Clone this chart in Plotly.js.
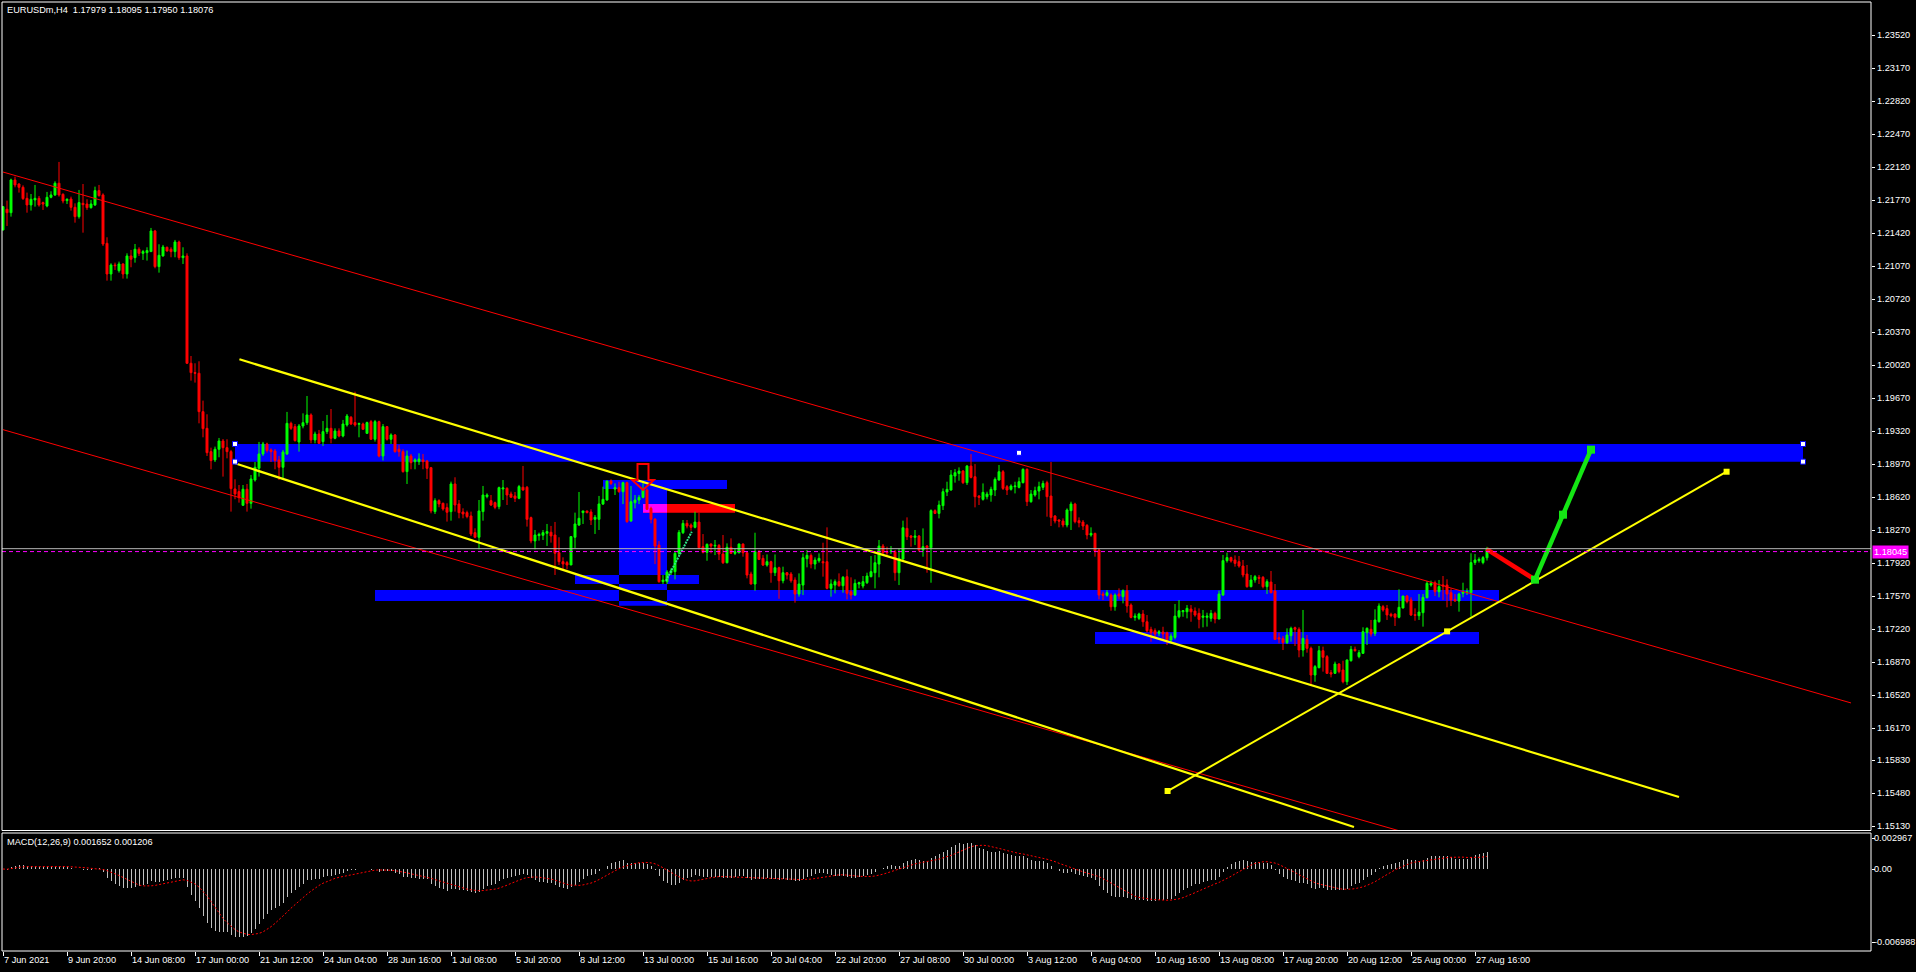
<!DOCTYPE html>
<html><head><meta charset="utf-8">
<script src="https://cdn.plot.ly/plotly-3.0.1.min.js"></script>
<style>html,body{margin:0;padding:0;background:#000;overflow:hidden}#chart{width:1916px;height:972px}</style>
</head><body><div id="chart"></div>
<script>
// ---------- data ----------
const symbolTitle = "EURUSDm,H4  1.17979 1.18095 1.17950 1.18076";
const macdTitle = "MACD(12,26,9) 0.001652 0.001206";
const timeLabels = ["7 Jun 2021","9 Jun 20:00","14 Jun 08:00","17 Jun 00:00","21 Jun 12:00","24 Jun 04:00","28 Jun 16:00","1 Jul 08:00","5 Jul 20:00","8 Jul 12:00","13 Jul 00:00","15 Jul 16:00","20 Jul 04:00","22 Jul 20:00","27 Jul 08:00","30 Jul 00:00","3 Aug 12:00","6 Aug 04:00","10 Aug 16:00","13 Aug 08:00","17 Aug 20:00","20 Aug 12:00","25 Aug 00:00","27 Aug 16:00"];
const barsPerLabel = 16;

const openP = [
1.21456,1.21675,1.21639,1.21986,1.21943,1.21908,1.21791,1.21721,1.21774,1.21791,
1.21746,1.21710,1.21802,1.21827,1.21951,1.21834,1.21767,1.21784,1.21696,1.21597,
1.21738,1.21731,1.21692,1.21721,1.21873,1.21827,1.21314,1.20989,1.21084,1.21024,
1.21095,1.20989,1.21180,1.21162,1.21251,1.21208,1.21215,1.21226,1.21445,1.21067,
1.21180,1.21272,1.21251,1.21226,1.21328,1.21162,1.21180,1.20042,1.19943,1.19936,
1.19529,1.19352,1.19105,1.19017,1.19130,1.19218,1.19147,1.19105,1.18709,1.18681,
1.18536,1.18706,1.18557,1.18804,1.18928,1.19080,1.19186,1.19123,1.19112,1.19017,
1.18939,1.19080,1.19405,1.19370,1.19207,1.19377,1.19412,1.19494,1.19229,1.19292,
1.19211,1.19317,1.19352,1.19246,1.19324,1.19271,1.19388,1.19469,1.19413,1.19395,
1.19398,1.19299,1.19423,1.19236,1.19423,1.19059,1.19370,1.19236,1.19282,1.19130,
1.19105,1.18893,1.19059,1.18999,1.18999,1.19017,1.19006,1.18935,1.18469,1.18585,
1.18557,1.18511,1.18469,1.18762,1.18550,1.18465,1.18458,1.18423,1.18246,1.18197,
1.18469,1.18628,1.18585,1.18564,1.18522,1.18709,1.18716,1.18656,1.18635,1.18610,
1.18727,1.18727,1.18405,1.18158,1.18214,1.18218,1.18239,1.18250,1.18221,1.18034,
1.17938,1.17928,1.17903,1.18197,1.18327,1.18458,1.18476,1.18465,1.18387,1.18387,
1.18549,1.18592,1.18793,1.18708,1.18723,1.18680,1.18776,1.18369,1.18563,1.18592,
1.18620,1.18698,1.18503,1.18390,1.18114,1.17726,1.17726,1.17821,1.17832,1.18026,
1.18245,1.18344,1.18327,1.18302,1.18358,1.18097,1.18037,1.18125,1.18104,1.18111,
1.18019,1.17927,1.18090,1.18026,1.18033,1.18125,1.18033,1.17807,1.17701,1.18044,
1.17973,1.17902,1.17938,1.17821,1.17874,1.17736,1.17821,1.17807,1.17743,1.17595,
1.17690,1.17970,1.18005,1.17913,1.17948,1.17938,1.17938,1.17655,1.17690,1.17726,
1.17683,1.17779,1.17620,1.17584,1.17701,1.17680,1.17715,1.17779,1.17821,1.17913,
1.18104,1.18044,1.18044,1.18044,1.17821,1.17966,1.18291,1.18210,1.18196,1.18210,
1.18062,1.18104,1.18086,1.18479,1.18450,1.18532,1.18677,1.18698,1.18846,1.18874,
1.18899,1.18776,1.18952,1.18839,1.18634,1.18599,1.18627,1.18645,1.18698,1.18804,
1.18892,1.18733,1.18705,1.18733,1.18726,1.18776,1.18917,1.18574,1.18645,1.18687,
1.18726,1.18776,1.18634,1.18422,1.18380,1.18369,1.18327,1.18479,1.18549,1.18373,
1.18358,1.18323,1.18221,1.18238,1.18062,1.17595,1.17581,1.17584,1.17460,1.17595,
1.17567,1.17630,1.17478,1.17347,1.17337,1.17383,1.17301,1.17220,1.17206,1.17178,
1.17192,1.17185,1.17107,1.17135,1.17354,1.17407,1.17407,1.17436,1.17414,1.17390,
1.17348,1.17348,1.17337,1.17390,1.17330,1.17585,1.17949,1.17981,1.17956,1.17938,
1.17892,1.17807,1.17673,1.17744,1.17772,1.17772,1.17673,1.17722,1.17627,1.17132,
1.17122,1.17079,1.17153,1.17238,1.17221,1.17001,1.17114,1.17019,1.16736,1.16814,
1.16994,1.16931,1.16761,1.16754,1.16853,1.16789,1.16665,1.16888,1.17008,1.16931,
1.16966,1.17185,1.17221,1.17178,1.17302,1.17461,1.17440,1.17380,1.17383,1.17348,
1.17447,1.17574,1.17532,1.17376,1.17365,1.17397,1.17556,1.17691,1.17715,1.17620,
1.17691,1.17691,1.17609,1.17539,1.17521,1.17602,1.17609,1.17609,1.17928,1.17949,
1.17928,1.17979];
const highP = [
1.21710,1.21767,1.22000,1.22021,1.21951,1.21929,1.21852,1.21837,1.21933,1.21816,
1.21756,1.21859,1.21866,1.21972,1.22177,1.21844,1.21791,1.21809,1.21738,1.21880,
1.21943,1.21781,1.21774,1.21915,1.21933,1.21844,1.21378,1.21102,1.21109,1.21120,
1.21102,1.21208,1.21244,1.21307,1.21272,1.21244,1.21272,1.21477,1.21456,1.21304,
1.21297,1.21279,1.21272,1.21350,1.21343,1.21272,1.21208,1.20119,1.20042,1.20063,
1.19646,1.19501,1.19147,1.19158,1.19250,1.19239,1.19236,1.19123,1.18812,1.18751,
1.18751,1.18762,1.18857,1.18995,1.19208,1.19208,1.19200,1.19140,1.19133,1.19059,
1.19123,1.19526,1.19423,1.19398,1.19398,1.19511,1.19695,1.19511,1.19317,1.19335,
1.19430,1.19494,1.19557,1.19352,1.19352,1.19441,1.19504,1.19483,1.19741,1.19413,
1.19413,1.19423,1.19441,1.19441,1.19434,1.19398,1.19377,1.19299,1.19292,1.19176,
1.19130,1.19116,1.19080,1.19034,1.19087,1.19080,1.19017,1.18939,1.18610,1.18600,
1.18564,1.18557,1.18787,1.18833,1.18592,1.18504,1.18479,1.18469,1.18292,1.18592,
1.18741,1.18663,1.18645,1.18575,1.18734,1.18804,1.18727,1.18681,1.18677,1.18752,
1.18953,1.18741,1.18416,1.18274,1.18246,1.18274,1.18338,1.18317,1.18359,1.18197,
1.17984,1.17946,1.18204,1.18458,1.18677,1.18476,1.18476,1.18494,1.18433,1.18635,
1.18733,1.18797,1.18811,1.18768,1.18786,1.18786,1.18786,1.18740,1.18645,1.18645,
1.18797,1.18715,1.18521,1.18397,1.18157,1.17796,1.17849,1.17867,1.18044,1.18274,
1.18380,1.18380,1.18344,1.18468,1.18457,1.18231,1.18132,1.18132,1.18168,1.18125,
1.18221,1.18132,1.18185,1.18079,1.18132,1.18132,1.18044,1.17832,1.18245,1.18062,
1.18008,1.18015,1.17948,1.18015,1.17885,1.17885,1.17828,1.17828,1.17772,1.17814,
1.18026,1.18062,1.18026,1.17984,1.18026,1.18139,1.18302,1.17750,1.17750,1.17814,
1.17786,1.17856,1.17772,1.17750,1.17726,1.17786,1.17821,1.17998,1.18008,1.18168,
1.18125,1.18097,1.18104,1.18062,1.18079,1.18373,1.18408,1.18221,1.18274,1.18221,
1.18291,1.18114,1.18493,1.18493,1.18585,1.18715,1.18786,1.18910,1.18920,1.18938,
1.18910,1.18963,1.19079,1.18973,1.18645,1.18768,1.18680,1.18733,1.18832,1.18963,
1.18910,1.18751,1.18758,1.18786,1.18832,1.18928,1.18928,1.18698,1.18733,1.18786,
1.18797,1.18797,1.18995,1.18433,1.18387,1.18397,1.18503,1.18574,1.18563,1.18408,
1.18380,1.18337,1.18302,1.18245,1.18079,1.17620,1.17637,1.17602,1.17602,1.17655,
1.17644,1.17690,1.17496,1.17390,1.17397,1.17425,1.17372,1.17248,1.17231,1.17213,
1.17248,1.17195,1.17178,1.17489,1.17531,1.17425,1.17478,1.17478,1.17453,1.17443,
1.17426,1.17397,1.17426,1.17408,1.17631,1.18009,1.18034,1.17991,1.18005,1.17998,
1.17956,1.17903,1.17797,1.17797,1.17797,1.17786,1.17751,1.17839,1.17701,1.17185,
1.17150,1.17231,1.17249,1.17249,1.17242,1.17426,1.17160,1.17037,1.16842,1.17044,
1.17037,1.16948,1.16789,1.16878,1.16860,1.16888,1.16902,1.17044,1.17037,1.17001,
1.17242,1.17242,1.17320,1.17433,1.17496,1.17479,1.17479,1.17397,1.17390,1.17645,
1.17574,1.17585,1.17560,1.17443,1.17595,1.17595,1.17733,1.17737,1.17737,1.17744,
1.17786,1.17751,1.17655,1.17595,1.17609,1.17715,1.17655,1.18027,1.18019,1.17984,
1.17998,1.18095];
const lowP = [
1.21449,1.21498,1.21597,1.21908,1.21852,1.21774,1.21639,1.21661,1.21703,1.21703,
1.21668,1.21696,1.21791,1.21816,1.21809,1.21738,1.21731,1.21661,1.21533,1.21576,
1.21427,1.21668,1.21682,1.21710,1.21809,1.21286,1.20918,1.20918,1.21031,1.21003,
1.20940,1.20940,1.21060,1.21109,1.21180,1.21138,1.21131,1.21222,1.21049,1.21003,
1.21173,1.21226,1.21166,1.21166,1.21138,1.21095,1.20035,1.19858,1.19837,1.19405,
1.19257,1.19059,1.18918,1.18995,1.19045,1.18840,1.19034,1.18469,1.18600,1.18564,
1.18529,1.18469,1.18500,1.18787,1.18840,1.19059,1.19094,1.18995,1.18918,1.18804,
1.18822,1.19070,1.19335,1.19211,1.19105,1.19352,1.19388,1.19193,1.19193,1.19190,
1.19165,1.19292,1.19193,1.19236,1.19257,1.19257,1.19370,1.19388,1.19370,1.19257,
1.19335,1.19292,1.19229,1.19211,1.19045,1.19010,1.19222,1.19186,1.19094,1.19052,
1.18882,1.18762,1.18918,1.18918,1.18964,1.18918,1.18815,1.18451,1.18444,1.18515,
1.18479,1.18363,1.18373,1.18469,1.18398,1.18398,1.18398,1.18211,1.18186,1.18069,
1.18373,1.18610,1.18529,1.18494,1.18494,1.18592,1.18539,1.18621,1.18571,1.18600,
1.18691,1.18310,1.18133,1.18069,1.18161,1.18168,1.18105,1.18140,1.17797,1.17903,
1.17857,1.17857,1.17903,1.18080,1.18317,1.18338,1.18451,1.18327,1.18232,1.18274,
1.18539,1.18585,1.18751,1.18645,1.18670,1.18549,1.18351,1.18362,1.18503,1.18549,
1.18610,1.18486,1.18344,1.17913,1.17715,1.17701,1.17701,1.17796,1.17750,1.18008,
1.18231,1.18291,1.18267,1.18291,1.18069,1.18026,1.17948,1.18026,1.18008,1.17955,
1.17913,1.17920,1.18019,1.18008,1.18026,1.17991,1.17761,1.17697,1.17630,1.17955,
1.17892,1.17885,1.17715,1.17786,1.17545,1.17708,1.17750,1.17715,1.17503,1.17567,
1.17584,1.17878,1.17867,1.17856,1.17927,1.17779,1.17644,1.17567,1.17602,1.17673,
1.17609,1.17538,1.17538,1.17574,1.17655,1.17655,1.17701,1.17772,1.17655,1.17772,
1.18008,1.18008,1.18019,1.17736,1.17690,1.17955,1.18168,1.18097,1.18114,1.18044,
1.17991,1.17821,1.17715,1.18443,1.18397,1.18486,1.18634,1.18691,1.18776,1.18797,
1.18761,1.18751,1.18821,1.18514,1.18539,1.18585,1.18599,1.18574,1.18634,1.18797,
1.18698,1.18645,1.18691,1.18662,1.18715,1.18768,1.18528,1.18563,1.18627,1.18599,
1.18698,1.18415,1.18316,1.18344,1.18302,1.18302,1.18302,1.18274,1.18344,1.18302,
1.18274,1.18175,1.18203,1.17991,1.17538,1.17531,1.17567,1.17418,1.17418,1.17538,
1.17496,1.17397,1.17337,1.17312,1.17319,1.17248,1.17185,1.17089,1.17135,1.17149,
1.17107,1.17054,1.17072,1.17114,1.17337,1.17354,1.17337,1.17301,1.17354,1.17231,
1.17242,1.17249,1.17302,1.17284,1.17327,1.17574,1.17928,1.17928,1.17885,1.17874,
1.17772,1.17662,1.17666,1.17715,1.17701,1.17655,1.17595,1.17602,1.17107,1.17072,
1.17001,1.17065,1.17090,1.17044,1.16924,1.16931,1.16973,1.16641,1.16665,1.16807,
1.16772,1.16747,1.16711,1.16747,1.16754,1.16648,1.16630,1.16878,1.16984,1.16913,
1.16959,1.17054,1.17143,1.17150,1.17291,1.17408,1.17320,1.17348,1.17256,1.17337,
1.17443,1.17496,1.17362,1.17312,1.17320,1.17249,1.17549,1.17673,1.17574,1.17560,
1.17532,1.17454,1.17468,1.17514,1.17408,1.17560,1.17585,1.17355,1.17903,1.17928,
1.17910,1.17950];
const closeP = [
1.21703,1.21639,1.21986,1.21933,1.21908,1.21788,1.21721,1.21781,1.21791,1.21721,
1.21731,1.21802,1.21827,1.21951,1.21827,1.21763,1.21781,1.21696,1.21597,1.21746,
1.21724,1.21692,1.21731,1.21873,1.21820,1.21307,1.20989,1.21084,1.21077,1.21095,
1.20989,1.21180,1.21145,1.21251,1.21208,1.21226,1.21237,1.21445,1.21067,1.21187,
1.21275,1.21233,1.21226,1.21328,1.21162,1.21180,1.20042,1.19943,1.19936,1.19529,
1.19349,1.19094,1.19010,1.19130,1.19218,1.19147,1.19105,1.18713,1.18656,1.18617,
1.18706,1.18557,1.18815,1.18939,1.19080,1.19186,1.19116,1.19105,1.19010,1.18939,
1.19101,1.19405,1.19352,1.19222,1.19377,1.19412,1.19494,1.19229,1.19292,1.19193,
1.19317,1.19352,1.19246,1.19324,1.19271,1.19398,1.19483,1.19398,1.19388,1.19402,
1.19342,1.19413,1.19236,1.19423,1.19059,1.19370,1.19236,1.19282,1.19105,1.19105,
1.18893,1.19059,1.18988,1.19017,1.19027,1.18999,1.18928,1.18476,1.18585,1.18550,
1.18497,1.18462,1.18762,1.18539,1.18458,1.18444,1.18416,1.18232,1.18197,1.18476,
1.18645,1.18645,1.18539,1.18515,1.18723,1.18720,1.18645,1.18621,1.18610,1.18734,
1.18698,1.18387,1.18158,1.18221,1.18228,1.18246,1.18257,1.18211,1.18027,1.17938,
1.17914,1.17903,1.18204,1.18338,1.18398,1.18476,1.18458,1.18380,1.18409,1.18550,
1.18599,1.18793,1.18768,1.18723,1.18680,1.18776,1.18362,1.18574,1.18592,1.18620,
1.18698,1.18493,1.18387,1.18104,1.17726,1.17743,1.17828,1.17842,1.18026,1.18249,
1.18344,1.18316,1.18302,1.18358,1.18086,1.18037,1.18121,1.18104,1.18111,1.18019,
1.17927,1.18090,1.18026,1.18044,1.18125,1.18033,1.17796,1.17701,1.18044,1.17962,
1.17902,1.17938,1.17821,1.17874,1.17736,1.17821,1.17796,1.17736,1.17595,1.17701,
1.17980,1.18005,1.17913,1.17955,1.17973,1.17927,1.17655,1.17701,1.17726,1.17683,
1.17772,1.17602,1.17584,1.17708,1.17715,1.17726,1.17786,1.17832,1.17927,1.18104,
1.18033,1.18033,1.18051,1.17821,1.17973,1.18298,1.18203,1.18196,1.18210,1.18062,
1.18097,1.18086,1.18479,1.18450,1.18539,1.18680,1.18705,1.18857,1.18882,1.18899,
1.18776,1.18952,1.18832,1.18627,1.18620,1.18673,1.18655,1.18705,1.18811,1.18892,
1.18715,1.18698,1.18740,1.18740,1.18786,1.18917,1.18574,1.18655,1.18691,1.18733,
1.18768,1.18627,1.18408,1.18369,1.18369,1.18327,1.18486,1.18549,1.18362,1.18351,
1.18316,1.18221,1.18238,1.18051,1.17584,1.17581,1.17609,1.17460,1.17584,1.17574,
1.17630,1.17468,1.17347,1.17361,1.17383,1.17301,1.17206,1.17185,1.17171,1.17195,
1.17171,1.17114,1.17149,1.17361,1.17418,1.17418,1.17443,1.17407,1.17372,1.17326,
1.17362,1.17362,1.17390,1.17330,1.17595,1.17949,1.17981,1.17945,1.17920,1.17892,
1.17797,1.17673,1.17744,1.17779,1.17761,1.17673,1.17726,1.17609,1.17114,1.17118,
1.17079,1.17160,1.17231,1.17221,1.17001,1.17125,1.17019,1.16736,1.16825,1.16994,
1.16924,1.16754,1.16747,1.16853,1.16772,1.16665,1.16895,1.17008,1.16994,1.16973,
1.17196,1.17231,1.17171,1.17320,1.17468,1.17426,1.17373,1.17365,1.17348,1.17454,
1.17574,1.17514,1.17373,1.17369,1.17404,1.17560,1.17708,1.17708,1.17620,1.17673,
1.17680,1.17595,1.17532,1.17521,1.17595,1.17620,1.17620,1.17928,1.17956,1.17963,
1.17981,1.18076];

const priceTicks = [1.23520,1.23170,1.22820,1.22470,1.22120,1.21770,1.21420,1.21070,1.20720,1.20370,1.20020,1.19670,1.19320,1.18970,1.18620,1.18270,1.17920,1.17570,1.17220,1.16870,1.16520,1.16170,1.15830,1.15480,1.15130];
const macdTickVals = [0.002967, 0, -0.006988];
const macdTickText = ["0.002967", "0.00", "-0.006988"];
const markerPrice = 1.18045;
const markerText = "1.18045";

// drawn objects: anchor points as (bar index, price)
const redChannelTopIdx = [0, 462],     redChannelTopPrice = [1.22070, 1.16440];
const redChannelBotIdx = [0, 354],     redChannelBotPrice = [1.19338, 1.15024];
const yellowTopIdx = [59.1, 419],      yellowTopPrice = [1.20084, 1.15443];
const yellowBotIdx = [58, 337.75],     yellowBotPrice = [1.18981, 1.15125];
const yellowRiseIdx = [291.15, 430.9], yellowRisePrice = [1.15506, 1.18892];
const greenLegIdx = [383, 397],        greenLegPrice = [1.17747, 1.19126];
const redLegIdx = [370.9, 383],        redLegPrice = [1.18072, 1.17747];
const tealIdx = [165.75, 172.2],       tealPrice = [1.17736, 1.18256];
const rectStartIdx = [58, 93, 273, 150, 154, 143, 160];
const rectEndIdx   = [450, 374, 369, 181, 166, 174, 183];
const rectLowPrice = [1.18999, 1.17521, 1.17065, 1.18709, 1.17471, 1.17702, 1.18458];
const rectHighPrice= [1.19186, 1.17638, 1.17192, 1.18804, 1.18709, 1.17797, 1.18550];
const rectColor    = ["#0000FF","#0000FF","#0000FF","#0000FF","#0000FF","#0000FF","#FF0000"];
const arrowIdx = 160, arrowTip = 1.18698, arrowNeck = 1.18804, arrowTop = 1.18974;

// ---------- layout geometry ----------
const W = 1916, H = 972, ML = 2, MR = 45, MT = 2, MB = 21;
const plotW = W - ML - MR, plotH = H - MT - MB;
const px = v => (v - ML) / plotW;
const py = v => (H - MB - v) / plotH;
const mainDomain = [py(830.5), 1];
const macdDomain = [0, py(833)];

const N = closeP.length;
const idx = Array.from({length: N}, (_, i) => i);

// MACD(12,26,9) from closes
function ema(arr, n) { const k = 2 / (n + 1); const out = []; let prev = arr[0];
  for (let i = 0; i < arr.length; i++) { prev = i === 0 ? arr[0] : arr[i] * k + prev * (1 - k); out.push(prev); } return out; }
const e12 = ema(closeP, 12), e26 = ema(closeP, 26);
const macdMain = e12.map((v, i) => v - e26[i]);
const macdSignal = macdMain.map((v, i) => { const s = Math.max(0, i - 8); let t = 0; for (let j = s; j <= i; j++) t += macdMain[j]; return t / (i - s + 1); });

const traces = [];
traces.push({type:'candlestick', x: idx, open: openP, high: highP, low: lowP, close: closeP,
  xaxis:'x', yaxis:'y', whiskerwidth: 0, hoverinfo:'skip', showlegend:false,
  increasing:{line:{color:'#00FF00', width:1}, fillcolor:'#00FF00'},
  decreasing:{line:{color:'#FF0000', width:1}, fillcolor:'#FF0000'}});
function line(xs, ys, color, width, dash) {
  traces.push({type:'scatter', mode:'lines', x: xs, y: ys, xaxis:'x', yaxis:'y',
    line:{color, width, dash: dash || 'solid'}, hoverinfo:'skip', showlegend:false});
}
line(redChannelTopIdx, redChannelTopPrice, '#FF0000', 1);
line(redChannelBotIdx, redChannelBotPrice, '#FF0000', 1);
line(yellowTopIdx, yellowTopPrice, '#FFFF00', 2.2);
line(yellowBotIdx, yellowBotPrice, '#FFFF00', 2.2);
line(yellowRiseIdx, yellowRisePrice, '#FFFF00', 2);
line(tealIdx, tealPrice, '#2EE68A', 2, '2px,1px');
line(redLegIdx, redLegPrice, '#FF0000', 4.5);
line(greenLegIdx, greenLegPrice, '#14E614', 4.5);
function mid(a) { return (a[0] + a[1]) / 2; }
function squares(xs, ys, color, size, lineColor) {
  traces.push({type:'scatter', mode:'markers', x: xs, y: ys, xaxis:'x', yaxis:'y', cliponaxis:false,
    marker:{symbol:'square', size, color, line:{color: lineColor || color, width: lineColor ? 1 : 0}},
    hoverinfo:'skip', showlegend:false});
}
squares([greenLegIdx[0], mid(greenLegIdx), greenLegIdx[1]], [greenLegPrice[0], mid(greenLegPrice), greenLegPrice[1]], '#14E614', 8);
squares([yellowRiseIdx[0], mid(yellowRiseIdx), yellowRiseIdx[1]], [yellowRisePrice[0], mid(yellowRisePrice), yellowRisePrice[1]], '#FFFF00', 6);
squares([rectStartIdx[0], rectStartIdx[0], rectEndIdx[0], rectEndIdx[0], (rectStartIdx[0] + rectEndIdx[0]) / 2],
        [rectHighPrice[0], rectLowPrice[0], rectHighPrice[0], rectLowPrice[0], (rectHighPrice[0] + rectLowPrice[0]) / 2], '#FFFFFF', 5, '#0000FF');

// MACD
traces.push({type:'bar', x: idx, y: macdMain, xaxis:'x', yaxis:'y2', width: 0.25,
  marker:{color:'#C0C0C0', line:{width:0}}, hoverinfo:'skip', showlegend:false});
traces.push({type:'scatter', mode:'lines', x: idx, y: macdSignal, xaxis:'x', yaxis:'y2',
  line:{color:'#FF0000', width:1, dash:'2px,2px'}, hoverinfo:'skip', showlegend:false});

// ---------- shapes ----------
const shapes = [];
function hex(c) { return [parseInt(c.substr(1,2),16), parseInt(c.substr(3,2),16), parseInt(c.substr(5,2),16)]; }
function toHex(a) { return '#' + a.map(v => v.toString(16).padStart(2,'0')).join(''); }
for (let r = 0; r < rectColor.length; r++) {
  shapes.push({type:'rect', xref:'x', yref:'y', layer:'below', x0: rectStartIdx[r], x1: rectEndIdx[r],
    y0: rectLowPrice[r], y1: rectHighPrice[r], fillcolor: rectColor[r], line:{width:0}});
}
// MT4 draws background rectangles with XOR: overlapping parts mix colours
for (let a = 0; a < rectColor.length; a++) for (let b = a + 1; b < rectColor.length; b++) {
  const x0 = Math.max(rectStartIdx[a], rectStartIdx[b]), x1 = Math.min(rectEndIdx[a], rectEndIdx[b]);
  const y0 = Math.max(rectLowPrice[a], rectLowPrice[b]), y1 = Math.min(rectHighPrice[a], rectHighPrice[b]);
  if (x1 > x0 && y1 > y0) {
    const ca = hex(rectColor[a]), cb = hex(rectColor[b]);
    shapes.push({type:'rect', xref:'x', yref:'y', layer:'below', x0, x1, y0, y1,
      fillcolor: toHex(ca.map((v, k) => v ^ cb[k])), line:{width:0}});
  }
}
// down arrow object
const aw = 1.375, hw = 2.7;
shapes.push({type:'path', xref:'x', yref:'y', layer:'above', line:{color:'#FF0000', width:2},
  path:`M ${arrowIdx-aw} ${arrowTop} L ${arrowIdx+aw} ${arrowTop} L ${arrowIdx+aw} ${arrowNeck} L ${arrowIdx+hw} ${arrowNeck} L ${arrowIdx} ${arrowTip} L ${arrowIdx-hw} ${arrowNeck} L ${arrowIdx-aw} ${arrowNeck} Z`});
// bid line and marker line
shapes.push({type:'line', xref:'paper', yref:'y', x0:0, x1:1, y0: closeP[N-1], y1: closeP[N-1], line:{color:'#B4B4B4', width:1}, layer:'above'});
shapes.push({type:'line', xref:'paper', yref:'y', x0:0, x1:1, y0: markerPrice, y1: markerPrice, line:{color:'#FF00FF', width:1, dash:'4px,3px'}, layer:'above'});
// window frames
shapes.push({type:'rect', xref:'paper', yref:'paper', x0:0, x1:1, y0: mainDomain[0], y1: 1, line:{color:'#FFFFFF', width:1}, layer:'above'});
shapes.push({type:'rect', xref:'paper', yref:'paper', x0:0, x1:1, y0: 0, y1: macdDomain[1], line:{color:'#FFFFFF', width:1}, layer:'above'});

// ---------- annotations ----------
const font = {family:'Liberation Sans, Arial, sans-serif', size:9.2, color:'#FFFFFF'};
const annotations = [];
annotations.push({xref:'paper', yref:'paper', x: px(6), y: py(4), xanchor:'left', yanchor:'top', text: symbolTitle, showarrow:false, font, borderpad:0});
annotations.push({xref:'paper', yref:'paper', x: px(6), y: py(836), xanchor:'left', yanchor:'top', text: macdTitle, showarrow:false, font, borderpad:0});
timeLabels.forEach((t, k) => annotations.push({xref:'x', yref:'paper', x: k * barsPerLabel, y: 0, xanchor:'left', yanchor:'top',
  yshift:-3, text: t, showarrow:false, font, borderpad:0}));
priceTicks.forEach(v => annotations.push({xref:'paper', yref:'y', x: 1, y: v, xanchor:'left', yanchor:'middle',
  xshift:5, text: v.toFixed(5), showarrow:false, font, borderpad:0}));
macdTickVals.forEach((v, k) => annotations.push({xref:'paper', yref:'y2', x: 1, y: v, xanchor:'left', yanchor:'middle',
  xshift:2, text: macdTickText[k], showarrow:false, font, borderpad:0}));
annotations.push({xref:'paper', yref:'y', x: 1, y: markerPrice, xanchor:'left', yanchor:'middle', xshift:1,
  text: markerText, showarrow:false, font:{...font, color:'#FFFFFF'}, bgcolor:'#FF00FF', borderpad:1});

const layout = {
  width: W, height: H, margin:{l:ML, r:MR, t:MT, b:MB, pad:0},
  paper_bgcolor:'#000000', plot_bgcolor:'#000000', showlegend:false, bargap:0,
  xaxis:{domain:[0,1], anchor:'y2', range:[-0.25, 467], showgrid:false, zeroline:false, showline:false,
    rangeslider:{visible:false}, tickmode:'array', tickvals: timeLabels.map((_, k) => k * barsPerLabel),
    ticks:'outside', ticklen:4, tickcolor:'#FFFFFF', showticklabels:false, fixedrange:true},
  yaxis:{domain: mainDomain, anchor:'x', side:'right', range:[1.150873, 1.238731], showgrid:false, zeroline:false,
    showline:false, tickmode:'array', tickvals: priceTicks, ticks:'outside', ticklen:3, tickcolor:'#FFFFFF',
    showticklabels:false, fixedrange:true},
  yaxis2:{domain: macdDomain, anchor:'x', side:'right', range:[-0.007849, 0.003446], showgrid:false, zeroline:false,
    showline:false, tickmode:'array', tickvals: macdTickVals, ticks:'outside', ticklen:3, tickcolor:'#FFFFFF',
    showticklabels:false, fixedrange:true},
  shapes, annotations
};
Plotly.newPlot('chart', traces, layout, {staticPlot:true, displayModeBar:false});
</script>
</body></html>
